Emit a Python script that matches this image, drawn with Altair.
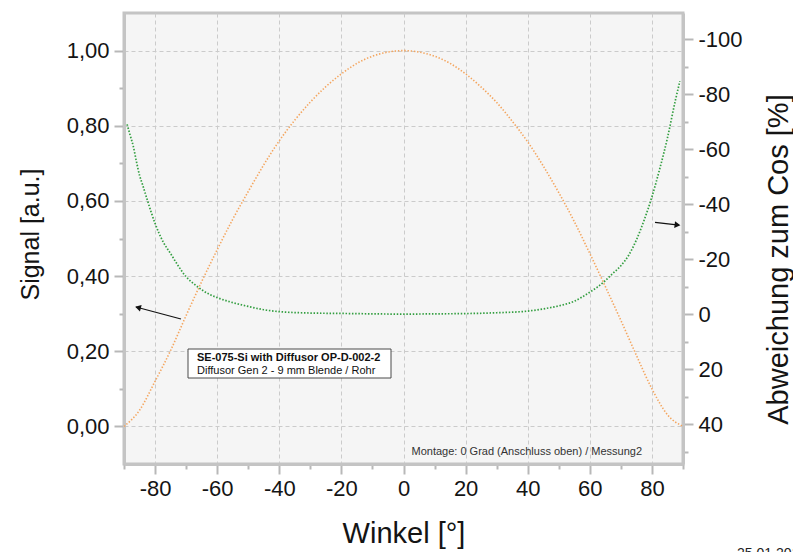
import altair as alt
import pandas as pd

# Normalised detector signal [a.u.] over the incidence angle [deg]
sig_angle = list(range(-90, 91, 5))
sig_value = [0.000, 0.043, 0.120, 0.202, 0.295, 0.385, 0.470, 0.551, 0.625, 0.696,
             0.760, 0.815, 0.863, 0.904, 0.938, 0.966, 0.985, 0.996, 1.000, 0.996,
             0.985, 0.966, 0.938, 0.903, 0.862, 0.812, 0.757, 0.693, 0.622, 0.545,
             0.460, 0.372, 0.282, 0.189, 0.100, 0.031, 0.000]

# Deviation from the ideal cosine response [%]
dev_angle = [-89, -88, -87, -86, -85, -84, -82.5, -80, -77.5, -75, -72.5, -70, -67.5,
             -65, -62.5, -60, -55, -50, -45, -40, -30, -20, -10, 0, 10, 20, 30, 40,
             45, 50, 55, 60, 62.5, 65, 67.5, 70, 72.5, 75, 77.5, 80, 82.5, 85, 87.5, 89]
dev_value = [-69, -65, -61, -55.5, -50.5, -47, -41.5, -33, -26.5, -22, -17.5, -13.6, -11,
             -8.9, -7.2, -6, -4.2, -2.8, -1.6, -0.9, -0.4, -0.25, -0.1, 0, -0.1, -0.2, -0.5, -1.1,
             -1.9, -3.0, -4.7, -8.0, -9.9, -12.2, -14.9, -17.6, -21.4, -27.0, -34.2, -42.7, -52.8, -64.1, -77.5, -84.7]

# Tick positions (major + minor)
x_ticks = list(range(-90, 91, 10))
left_ticks = [round(v * 0.1, 1) for v in range(0, 11)]
right_ticks = list(range(-100, 51, 10))

legend_title = "SE-075-Si with Diffusor OP-D-002-2"
legend_sub = "Diffusor Gen 2 - 9 mm Blende / Rohr"
note_text = "Montage: 0 Grad (Anschluss oben) / Messung2"
date_text = "25.01.2013"

FONT = "Liberation Sans"
W, H = 559, 451

sig_df = pd.DataFrame({"winkel": sig_angle, "signal": sig_value})
dev_df = pd.DataFrame({"winkel": dev_angle, "abw": dev_value})
one = pd.DataFrame({"k": [0]})

common = dict(
    domainColor="#c4c4c4", domainWidth=3,
    tickColor="#b8b8b8", tickWidth=2,
    gridColor="#cbcbcb", gridDash=[4, 3], gridWidth=1,
    labelFont=FONT, labelFontSize=22, labelColor="#141414",
    titleFont=FONT, titleFontWeight="normal", titleColor="#141414",
    labelOverlap=False, labelFlush=False, labelBound=False,
)


def cond(test, major, minor):
    return {"condition": {"test": test, "value": major}, "value": minor}


x_major = "datum.value % 20 == 0"
x_axis = alt.Axis(
    values=x_ticks,
    labelExpr=f"{x_major} ? '' + datum.value : ''",
    tickSize=cond(x_major, 10, 5),
    gridOpacity=cond(x_major, 1, 0),
    labelPadding=4,
    title="Winkel [°]", titleFontSize=29,
    titleBaseline="alphabetic", titleAlign="center",
    titleX=W / 2, titleY=78,
    **common,
)

l_major = "round(datum.value * 10) % 2 == 0"
left_axis = alt.Axis(
    values=left_ticks,
    labelExpr=f"{l_major} ? replace(format(datum.value, '.2f'), '.', ',') : ''",
    tickSize=cond(l_major, 10, 5),
    gridOpacity=cond(l_major, 1, 0),
    labelPadding=5,
    title="Signal [a.u.]", titleFontSize=25,
    titleAngle=270, titleBaseline="middle", titleAlign="center",
    titleX=-94, titleY=221,
    **common,
)

r_major = "datum.value % 20 == 0"
right_axis = alt.Axis(
    orient="right",
    values=right_ticks,
    labelExpr=f"{r_major} ? '' + datum.value : ''",
    tickSize=cond(r_major, 10, 5),
    gridOpacity=cond(r_major, 1, 0),
    labelPadding=5,
    title="Abweichung zum Cos [%]", titleFontSize=29,
    titleAngle=270, titleBaseline="middle", titleAlign="center",
    titleX=95, titleY=246,
    **common,
)

x_enc = alt.X("winkel:Q", scale=alt.Scale(domain=[-90, 90], nice=False, zero=False), axis=x_axis)

signal_line = alt.Chart(sig_df).mark_line(
    color="#f4a55e", strokeWidth=1.6, strokeDash=[1.4, 1.8], interpolate="monotone"
).encode(
    x=x_enc,
    y=alt.Y("signal:Q", scale=alt.Scale(domain=[-0.1, 1.1], nice=False, zero=False), axis=left_axis),
)

dev_line = alt.Chart(dev_df).mark_line(
    color="#339e40", strokeWidth=1.7, strokeDash=[1.5, 1.7], interpolate="monotone"
).encode(
    x=x_enc,
    y=alt.Y("abw:Q", scale=alt.Scale(domain=[-109.5, 54.5], reverse=True, nice=False, zero=False),
            axis=right_axis),
)

# Legend box and annotation texts (pixel positions inside the plot area)
box = alt.Chart(one).mark_rect(fill="white", stroke="#4a4a4a", strokeWidth=1).encode(
    x=alt.value(64), x2=alt.value(267), y=alt.value(336), y2=alt.value(365)
)
box_t1 = alt.Chart(one).mark_text(
    text=legend_title, font=FONT, fontSize=11, fontWeight="bold", align="left",
    baseline="alphabetic", color="#111"
).encode(x=alt.value(73), y=alt.value(348))
box_t2 = alt.Chart(one).mark_text(
    text=legend_sub, font=FONT, fontSize=11, align="left", baseline="alphabetic", color="#111"
).encode(x=alt.value(73), y=alt.value(361))
note = alt.Chart(one).mark_text(
    text=note_text, font=FONT, fontSize=11, align="left", baseline="alphabetic", color="#333"
).encode(x=alt.value(287.5), y=alt.value(442))
date = alt.Chart(one).mark_text(
    text=date_text, font=FONT, fontSize=14, align="left", baseline="alphabetic", color="#222"
).encode(x=alt.value(613), y=alt.value(545))

# Arrows pointing to the axis each curve belongs to
arrow_l = alt.Chart(one).mark_rule(color="#111", strokeWidth=1.2).encode(
    x=alt.value(57), y=alt.value(306), x2=alt.value(12), y2=alt.value(294)
)
head_l = alt.Chart(one).mark_point(
    shape="triangle-left", filled=True, color="#111", size=45, angle=14.5, opacity=1
).encode(x=alt.value(14), y=alt.value(294.5))
arrow_r = alt.Chart(one).mark_rule(color="#111", strokeWidth=1.2).encode(
    x=alt.value(531), y=alt.value(209.3), x2=alt.value(555), y2=alt.value(212.2)
)
head_r = alt.Chart(one).mark_point(
    shape="triangle-right", filled=True, color="#111", size=45, angle=7, opacity=1
).encode(x=alt.value(553.5), y=alt.value(212))

chart = alt.layer(
    signal_line, dev_line, box, box_t1, box_t2, note, date, arrow_l, head_l, arrow_r, head_r
).resolve_scale(
    y="independent"
).properties(
    width=W, height=H,
    autosize=alt.AutoSizeParams(type="none"),
    padding={"left": 124, "top": 13, "right": 110, "bottom": 88},
    background="white",
).configure_view(
    stroke="#c4c4c4", strokeWidth=3, fill="#f5f5f5"
)

chart.save("out.html", embed_options={"renderer": "svg", "actions": False})
